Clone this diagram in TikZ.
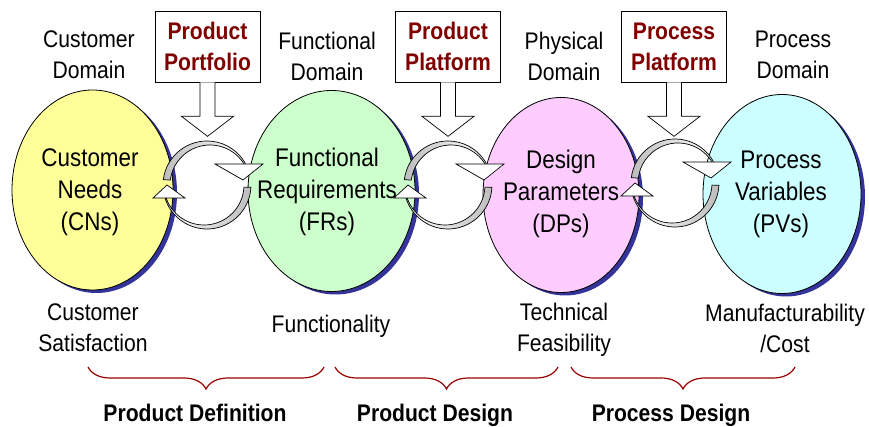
\documentclass[tikz,border=0pt]{standalone}
\usepackage{fontspec}
\setmainfont{Liberation Sans}[FakeStretch=0.88]
\usetikzlibrary{shapes.geometric}
\usetikzlibrary{shadows}
\usetikzlibrary{decorations.pathreplacing}
\definecolor{cnyellow}{HTML}{FFFF99}
\definecolor{frgreen}{HTML}{CCFFCC}
\definecolor{dppink}{HTML}{FFCCFF}
\definecolor{pvcyan}{HTML}{CCFFFF}
\definecolor{shadownavy}{HTML}{333399}
\definecolor{platred}{HTML}{800000}
\definecolor{bracered}{HTML}{990000}
\definecolor{ribbongray}{HTML}{BDBDBD}

\begin{document}
\begin{tikzpicture}
				[x=1pt, y=1pt,
				domainellipse/.style={ellipse, draw=black, line width=0.8pt, inner sep=0pt,
					drop shadow={shadow xshift=4pt, shadow yshift=-3pt, fill=shadownavy, opacity=1}},
				label/.style={align=center, inner sep=0pt, font=\fontsize{24}{31}\selectfont},
				inlabel/.style={align=center, inner sep=0pt, font=\fontsize{25.5}{32}\selectfont},
				platbox/.style={draw=black, fill=white, line width=0.7pt, minimum width=105pt, minimum height=71pt,
					align=center, inner sep=0pt, text=platred, font=\fontsize{24}{31}\selectfont\bfseries},
				blockarrow/.style={draw=black, fill=white, line width=0.7pt, line join=miter},
				ribbon/.style={draw=black, line width=0.7pt},
				tiphead/.style={draw=black, fill=white, line width=0.7pt, line join=miter},
				phase/.style={draw=bracered, line width=1.2pt, decorate, decoration={brace, mirror, amplitude=22pt}},
				phaselabel/.style={inner sep=0pt, anchor=base, font=\fontsize{24}{31}\selectfont\bfseries}]
				\useasboundingbox (0,0) rectangle (869,427);
				% the four domains
				\node[domainellipse, fill=cnyellow, minimum width=161pt, minimum height=200pt] (cn) at (92.5,237) {};
				\node[domainellipse, fill=frgreen, minimum width=167pt, minimum height=201pt] (fr) at (331.5,236) {};
				\node[domainellipse, fill=dppink, minimum width=156pt, minimum height=195pt] (dp) at (561,232) {};
				\node[domainellipse, fill=pvcyan, minimum width=158pt, minimum height=199pt] (pv) at (782,233) {};
				\node[inlabel] (cntext) at (90,235) {Customer\\Needs\\(CNs)};
				\node[inlabel] (frtext) at (327,235) {Functional\\Requirements\\(FRs)};
				\node[inlabel] (dptext) at (561,233) {Design\\Parameters\\(DPs)};
				\node[inlabel] (pvtext) at (781,233) {Process\\Variables\\(PVs)};
				% domain names above
				\node[label] (cndom) at (89,372) {Customer\\Domain};
				\node[label] (frdom) at (327,371) {Functional\\Domain};
				\node[label] (dpdom) at (564,371) {Physical\\Domain};
				\node[label] (pvdom) at (793,372) {Process\\Domain};
				% platforms and their arrows
				\node[platbox] (portfolio) at (207.5,380.5) {Product\\Portfolio};
				\node[platbox] (prodplat) at (448,380.5) {Product\\Platform};
				\node[platbox] (procplat) at (674,380.5) {Process\\Platform};
				\foreach \b in {portfolio,prodplat,procplat}
					\draw[blockarrow] ([xshift=-7.5pt]\b.south) -- ++(0,-34) -- ++(-18.5,0) -- ++(26,-20)
						-- ++(26,20) -- ++(-18.5,0) -- ++(0,34);
				% mapping cycles
				\foreach \cx/\cy in {207/242,448/242,675/244}{
					\begin{scope}[shift={(\cx,\cy)}]
						\path[ribbon, left color=white, right color=ribbongray]
							(-3:44) arc[start angle=-3, end angle=-163, radius=44]
							-- (-41.25,-11.70) arc[start angle=-163, end angle=-3, radius=40] -- cycle;
						\draw[tiphead] (-54,-13) -- (-40,0) -- (-22,-13) -- cycle;
						\path[ribbon, left color=ribbongray, right color=white]
							(173:44) arc[start angle=173, end angle=27, radius=44]
							-- (38.64,18.16) arc[start angle=27, end angle=173, radius=40] -- cycle;
						\draw[tiphead] (8,21) -- (56,21) -- (36,5) -- cycle;
					\end{scope}
				}
				% what each domain is judged by
				\node[label] (satis) at (93,99) {Customer\\Satisfaction};
				\node[label, anchor=base] (funct) at (331,94) {Functionality};
				\node[label] (feas) at (564,97) {Technical\\Feasibility};
				\node[label] (manuf) at (785,99) {Manufacturability\\/Cost};
				% phases
				\coordinate (defl) at (88,60);
				\coordinate (defr) at (324,60);
				\coordinate (desl) at (335,60);
				\coordinate (desr) at (558,60);
				\coordinate (procl) at (571,60);
				\coordinate (procr) at (795,60);
				\draw[phase] (defl) -- (defr);
				\draw[phase] (desl) -- (desr);
				\draw[phase] (procl) -- (procr);
				\node[phaselabel] (defn) at (195,5) {Product Definition};
				\node[phaselabel] (desn) at (435,5) {Product Design};
				\node[phaselabel] (procdesn) at (671,5) {Process Design};
			\end{tikzpicture}
\end{document}
